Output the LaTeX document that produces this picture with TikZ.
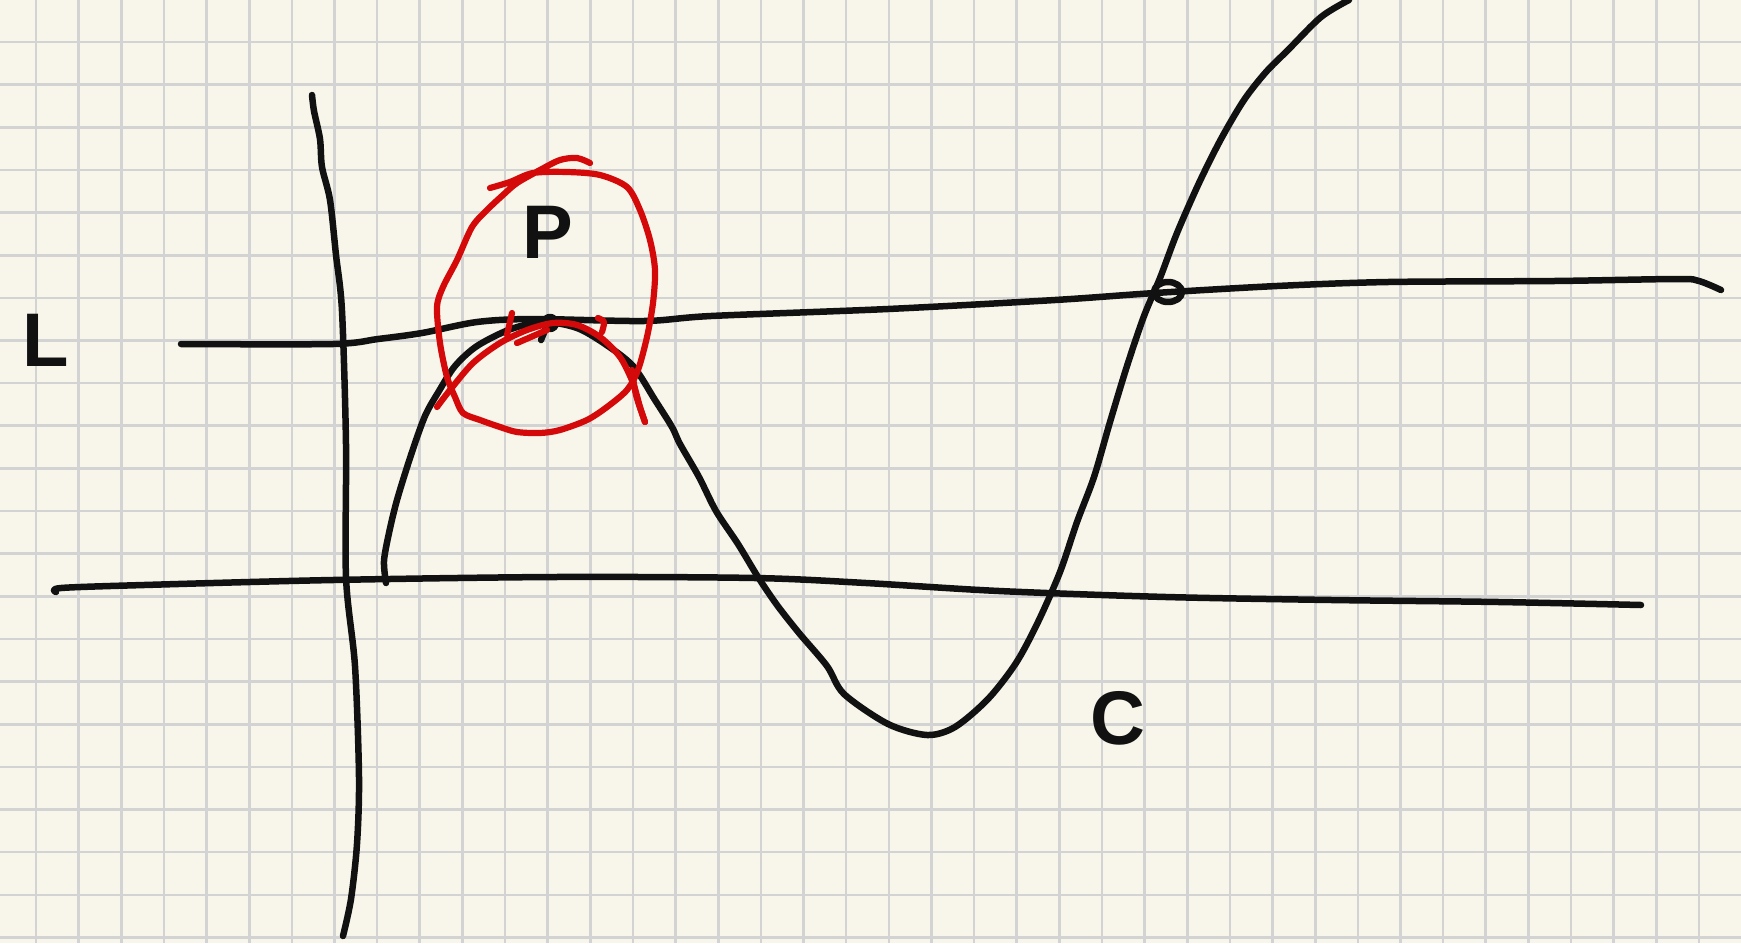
\documentclass[tikz,border=0pt]{standalone}
\usepackage{fontspec}
\setmainfont{Liberation Sans}
\definecolor{paper}{HTML}{F8F6EA}
\definecolor{gridc}{HTML}{D3D3D3}
\definecolor{redpen}{HTML}{D40A0A}
\definecolor{blackpen}{HTML}{111111}
\tikzset{
  gridline/.style={draw=gridc, line width=2.6pt},
  ink/.style={draw=blackpen, line width=6.5pt, line cap=round, line join=round},
  redink/.style={draw=redpen, line width=6.2pt, line cap=round, line join=round},
  hand/.style={text=blackpen, inner sep=0pt, font=\fontsize{76}{80}\selectfont\bfseries},
}
\begin{document}
\begin{tikzpicture}[x=1pt,y=-1pt]
\fill[paper] (0,0) rectangle (1741,943);
\useasboundingbox (0,0) rectangle (1741,943);
% grid
\foreach \i in {0,...,39} \draw[gridline] ({36+42.64*\i},0) -- ({36+42.64*\i},943);
\foreach \j in {0,...,21} \draw[gridline] (0,{42+42.64*\j}) -- (1741,{42+42.64*\j});
% vertical axis
\draw[ink] plot[smooth, tension=0.5] coordinates {(312,95) (314,111) (320,139) (322,167) (330,200) (336,255) (342,311) (346,444) (346,577) (355,666) (359,777) (357,844) (351,899) (343,936)};
% horizontal axis
\draw[ink] plot[smooth, tension=0.5] coordinates {(56,592) (61,588) (144,585) (333,580) (555,577) (755,578) (866,583) (999,591) (1166,597) (1332,600) (1499,602) (1641,605)};
% line L
\draw[ink] plot[smooth, tension=0.5] coordinates {(181,344) (333,344) (378,339) (422,333) (477,322) (533,319) (644,321) (711,316) (888,309) (1055,300) (1155,293) (1277,286) (1388,282) (1554,281) (1677,279) (1699,281) (1721,290)};
% curve C
\draw[ink] plot[smooth, tension=0.5] coordinates {(386,583) (384,561) (389,533) (397,500) (411,455) (425,416) (439,391) (455,366) (477,346) (511,329) (544,322) (577,328) (605,344) (633,366) (655,400) (672,427) (680,444) (699,477) (716,511) (738,544) (758,577) (777,605) (799,633) (827,666) (844,694) (888,724) (927,735) (955,727) (988,699) (1016,663) (1038,622) (1060,572) (1077,522) (1094,477) (1110,422) (1127,366) (1144,316) (1160,278) (1177,233) (1199,183) (1221,139) (1244,100) (1266,72) (1288,50) (1321,17) (1349,0)};
% intersection loop
\draw[ink] (1168,292) ellipse [x radius=14, y radius=10];
% point at tangency
\draw[ink] (550,323) circle [radius=6];
\draw[ink] (541,340) -- (546,328);
% labels
\node[hand] (labL) at (46,340) {L};
\node[hand] (labC) at (1118,718) {C};
\node[hand] (labP) at (548,232) {P};
% red loops
\draw[redink] plot[smooth, tension=0.5] coordinates {(490,188) (510,182) (533,173) (567,172) (600,175) (627,187) (640,210) (650,240) (655,270) (653,303) (647,337) (638,370) (627,390) (607,407) (587,420) (560,430) (540,433) (517,432) (500,427) (480,420) (463,413) (455,397) (447,377) (440,343) (437,307) (443,287) (457,260) (472,227) (487,210) (503,195) (517,183) (540,170) (560,160) (577,158) (590,163)};
\draw[redink] plot[smooth, tension=0.5] coordinates {(437,407) (450,390) (473,363) (500,343) (527,330) (553,323) (577,325) (600,337) (620,357) (633,383) (640,407) (645,422)};
\draw[redink] (512,313) -- (507,335);
\draw[redink] (517,343) -- (547,330);
\draw[redink] plot[smooth] coordinates {(598,318) (604,322) (602,332)};
\draw[redink] plot[smooth] coordinates {(632,370) (636,395) (645,422)};
\end{tikzpicture}
\end{document}
